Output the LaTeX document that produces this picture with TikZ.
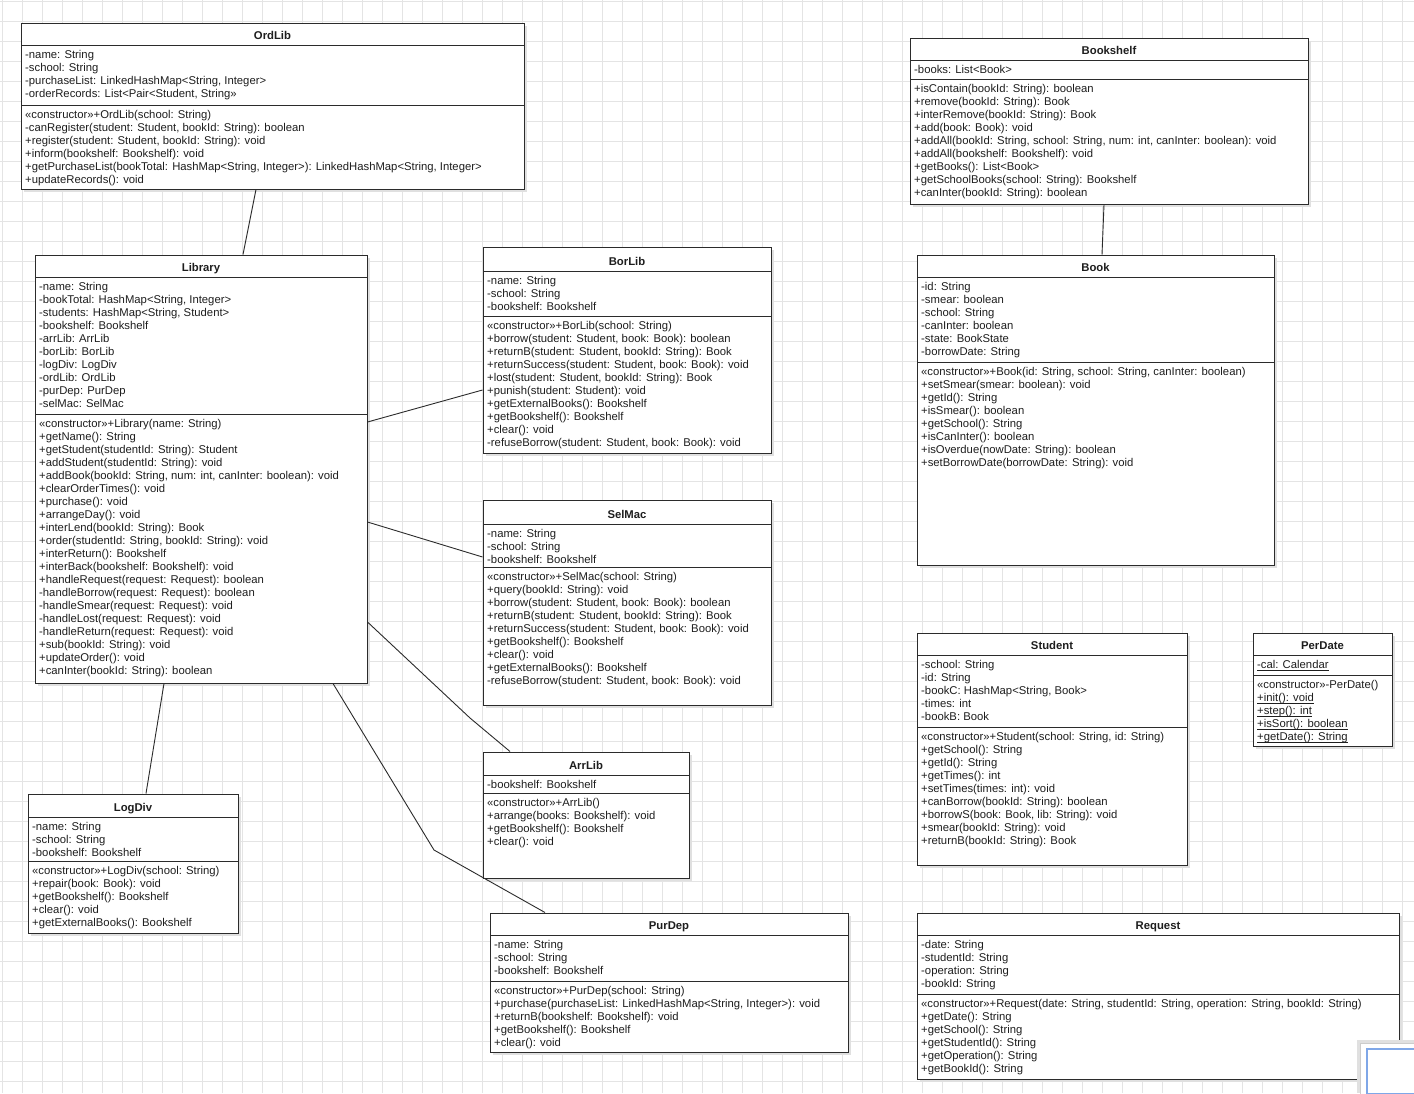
\documentclass[tikz,border=0pt]{standalone}
\usepackage{fontspec}
\setmainfont{Liberation Sans}
\usetikzlibrary{calc}
\definecolor{UmlLine}{HTML}{2B2B2B}
\definecolor{UmlText}{HTML}{1E1E1E}
\definecolor{UmlGrid}{HTML}{E4E4E4}
\definecolor{UmlShadow}{HTML}{E0E0E0}
\definecolor{UmlView}{HTML}{7FA7E8}
\tikzset{
  classbox/.style={draw=UmlLine, fill=white, line width=1pt, inner sep=0pt},
  classline/.style={draw=UmlLine, line width=1pt},
  classtitle/.style={anchor=base, inner sep=0pt, text=UmlText, font=\fontsize{11.3}{13}\selectfont\bfseries},
  member/.style={anchor=base west, inner sep=0pt, text=UmlText, font=\fontsize{11.3}{13}\selectfont},
  assoc/.style={draw=UmlLine, line width=0.9pt},
  boxshadow/.style={fill=UmlShadow},
  gridline/.style={draw=UmlGrid, line width=0.6pt},
}
% frame, separators and title of one class
\newcommand{\umlclass}[8]{%
  \fill[boxshadow] ({#3+3},{#4+3}) rectangle ({#5+3},{#6+3});
  \node[classbox, minimum width={#5-#3}, minimum height={#6-#4}] (#1) at ({(#3+#5)/2},{(#4+#6)/2}) {};
  \draw[classline] (#3,#7) -- (#5,#7);
  \draw[classline] (#3,#8) -- (#5,#8);
  \node[classtitle] (#1-title) at ({(#3+#5)/2},{#7-6}) {#2};
}
% one compartment of rows
\newcommand{\umlrows}[4]{%
  \foreach \rowtext [count=\k] in {#4}
    \node[member] (#1\k) at ({#2+4},{#3+13.5+13*(\k-1)}) {\rowtext};
}
% static members are underlined close to the baseline
\newcommand{\static}[1]{\underline{\smash{#1}}}

\begin{document}
\begin{tikzpicture}[x=1pt, y=-1pt]
  \useasboundingbox (0,0) rectangle (1414,1093);
  \fill[white] (0,0) rectangle (1414,1093);
  \foreach \gx in {2,22,...,1414} \draw[gridline] (\gx,0) -- (\gx,1093);
  \foreach \gy in {1,21,...,1093} \draw[gridline] (0,\gy) -- (1414,\gy);

  % OrdLib
  \umlclass{ordlib}{OrdLib}{21}{23}{524}{189}{45}{105}
  \umlrows{ordlibA}{21}{45}{-name: String, -school: String,
    {-purchaseList: LinkedHashMap<String, Integer>},
    {-orderRecords: List<Pair<Student, String>>}}
  \umlrows{ordlibM}{21}{105}{«constructor»+OrdLib(school: String),
    {-canRegister(student: Student, bookId: String): boolean},
    {+register(student: Student, bookId: String): void},
    +inform(bookshelf: Bookshelf): void,
    {+getPurchaseList(bookTotal: HashMap<String, Integer>): LinkedHashMap<String, Integer>},
    +updateRecords(): void}

  % Bookshelf
  \umlclass{bookshelf}{Bookshelf}{910}{38}{1308}{204}{60}{79}
  \umlrows{bookshelfA}{910}{60}{-books: List<Book>}
  \umlrows{bookshelfM}{910}{79}{+isContain(bookId: String): boolean,
    +remove(bookId: String): Book,
    +interRemove(bookId: String): Book,
    +add(book: Book): void,
    {+addAll(bookId: String, school: String, num: int, canInter: boolean): void},
    +addAll(bookshelf: Bookshelf): void,
    +getBooks(): List<Book>,
    +getSchoolBooks(school: String): Bookshelf,
    +canInter(bookId: String): boolean}

  % Library
  \umlclass{library}{Library}{35}{255}{367}{683}{277}{414}
  \umlrows{libraryA}{35}{277}{-name: String,
    {-bookTotal: HashMap<String, Integer>},
    {-students: HashMap<String, Student>},
    -bookshelf: Bookshelf, -arrLib: ArrLib, -borLib: BorLib, -logDiv: LogDiv,
    -ordLib: OrdLib, -purDep: PurDep, -selMac: SelMac}
  \umlrows{libraryM}{35}{414}{«constructor»+Library(name: String),
    +getName(): String,
    +getStudent(studentId: String): Student,
    +addStudent(studentId: String): void,
    {+addBook(bookId: String, num: int, canInter: boolean): void},
    +clearOrderTimes(): void,
    +purchase(): void,
    +arrangeDay(): void,
    +interLend(bookId: String): Book,
    {+order(studentId: String, bookId: String): void},
    +interReturn(): Bookshelf,
    +interBack(bookshelf: Bookshelf): void,
    +handleRequest(request: Request): boolean,
    -handleBorrow(request: Request): boolean,
    -handleSmear(request: Request): void,
    -handleLost(request: Request): void,
    -handleReturn(request: Request): void,
    +sub(bookId: String): void,
    +updateOrder(): void,
    +canInter(bookId: String): boolean}

  % BorLib
  \umlclass{borlib}{BorLib}{483}{247}{771}{453}{271}{316}
  \umlrows{borlibA}{483}{271}{-name: String, -school: String, -bookshelf: Bookshelf}
  \umlrows{borlibM}{483}{316}{«constructor»+BorLib(school: String),
    {+borrow(student: Student, book: Book): boolean},
    {+returnB(student: Student, bookId: String): Book},
    {+returnSuccess(student: Student, book: Book): void},
    {+lost(student: Student, bookId: String): Book},
    +punish(student: Student): void,
    +getExternalBooks(): Bookshelf,
    +getBookshelf(): Bookshelf,
    +clear(): void,
    {-refuseBorrow(student: Student, book: Book): void}}

  % SelMac
  \umlclass{selmac}{SelMac}{483}{500}{771}{705}{524}{567}
  \umlrows{selmacA}{483}{524}{-name: String, -school: String, -bookshelf: Bookshelf}
  \umlrows{selmacM}{483}{567}{«constructor»+SelMac(school: String),
    +query(bookId: String): void,
    {+borrow(student: Student, book: Book): boolean},
    {+returnB(student: Student, bookId: String): Book},
    {+returnSuccess(student: Student, book: Book): void},
    +getBookshelf(): Bookshelf,
    +clear(): void,
    +getExternalBooks(): Bookshelf,
    {-refuseBorrow(student: Student, book: Book): void}}

  % Book
  \umlclass{book}{Book}{917}{255}{1274}{565}{277}{362}
  \umlrows{bookA}{917}{277}{-id: String, -smear: boolean, -school: String,
    -canInter: boolean, -state: BookState, -borrowDate: String}
  \umlrows{bookM}{917}{362}{{«constructor»+Book(id: String, school: String, canInter: boolean)},
    +setSmear(smear: boolean): void,
    +getId(): String,
    +isSmear(): boolean,
    +getSchool(): String,
    +isCanInter(): boolean,
    +isOverdue(nowDate: String): boolean,
    +setBorrowDate(borrowDate: String): void}

  % Student
  \umlclass{student}{Student}{917}{633}{1187}{865}{655}{727}
  \umlrows{studentA}{917}{655}{-school: String, -id: String,
    {-bookC: HashMap<String, Book>}, -times: int, -bookB: Book}
  \umlrows{studentM}{917}{727}{{«constructor»+Student(school: String, id: String)},
    +getSchool(): String,
    +getId(): String,
    +getTimes(): int,
    +setTimes(times: int): void,
    +canBorrow(bookId: String): boolean,
    {+borrowS(book: Book, lib: String): void},
    +smear(bookId: String): void,
    +returnB(bookId: String): Book}

  % PerDate
  \umlclass{perdate}{PerDate}{1253}{633}{1392}{746}{655}{675}
  \umlrows{perdateA}{1253}{655}{\static{-cal: Calendar}}
  \umlrows{perdateM}{1253}{675}{«constructor»-PerDate(),
    \static{+init(): void},
    \static{+step(): int},
    \static{+isSort(): boolean},
    \static{+getDate(): String}}

  % LogDiv
  \umlclass{logdiv}{LogDiv}{28}{794}{238}{933}{817}{861}
  \umlrows{logdivA}{28}{817}{-name: String, -school: String, -bookshelf: Bookshelf}
  \umlrows{logdivM}{28}{861}{«constructor»+LogDiv(school: String),
    +repair(book: Book): void,
    +getBookshelf(): Bookshelf,
    +clear(): void,
    +getExternalBooks(): Bookshelf}

  % ArrLib
  \umlclass{arrlib}{ArrLib}{483}{752}{689}{878}{775}{793}
  \umlrows{arrlibA}{483}{775}{-bookshelf: Bookshelf}
  \umlrows{arrlibM}{483}{793}{«constructor»+ArrLib(),
    +arrange(books: Bookshelf): void,
    +getBookshelf(): Bookshelf,
    +clear(): void}

  % PurDep
  \umlclass{purdep}{PurDep}{490}{913}{848}{1052}{935}{981}
  \umlrows{purdepA}{490}{935}{-name: String, -school: String, -bookshelf: Bookshelf}
  \umlrows{purdepM}{490}{981}{«constructor»+PurDep(school: String),
    {+purchase(purchaseList: LinkedHashMap<String, Integer>): void},
    +returnB(bookshelf: Bookshelf): void,
    +getBookshelf(): Bookshelf,
    +clear(): void}

  % Request
  \umlclass{request}{Request}{917}{913}{1399}{1079}{935}{994}
  \umlrows{requestA}{917}{935}{-date: String, -studentId: String,
    -operation: String, -bookId: String}
  \umlrows{requestM}{917}{994}{{«constructor»+Request(date: String, studentId: String, operation: String, bookId: String)},
    +getDate(): String,
    +getSchool(): String,
    +getStudentId(): String,
    +getOperation(): String,
    +getBookId(): String}

  % associations
  \coordinate (arrbend) at (470,718);
  \coordinate (purbend) at (434,850);
  \draw[assoc] ([xshift=-16.5pt]ordlib.south) -- ([xshift=42pt]library.north);
  \draw[assoc] ([yshift=47pt]library.east) -- ([yshift=-40pt]borlib.west);
  \draw[assoc] ([yshift=-53pt]library.east) -- ([yshift=45.5pt]selmac.west);
  \draw[assoc] ([yshift=-153pt]library.east) -- (arrbend) -- ([xshift=-76pt]arrlib.north);
  \draw[assoc] ([xshift=132pt]library.south) -- (purbend) -- ([xshift=-124pt]purdep.north);
  \draw[assoc] ([xshift=-37pt]library.south) -- ([xshift=13pt]logdiv.north);
  \draw[assoc] ([xshift=-5pt]bookshelf.south) -- ([xshift=6.5pt]book.north);

  % outline view
  \fill[UmlShadow] (1357,1040) rectangle (1414,1093);
  \fill[white, draw=gray!40] (1360,1043) rectangle (1415,1094);
  \draw[UmlView, line width=1.2pt] (1367,1049) rectangle (1415,1094);
\end{tikzpicture}
\end{document}
